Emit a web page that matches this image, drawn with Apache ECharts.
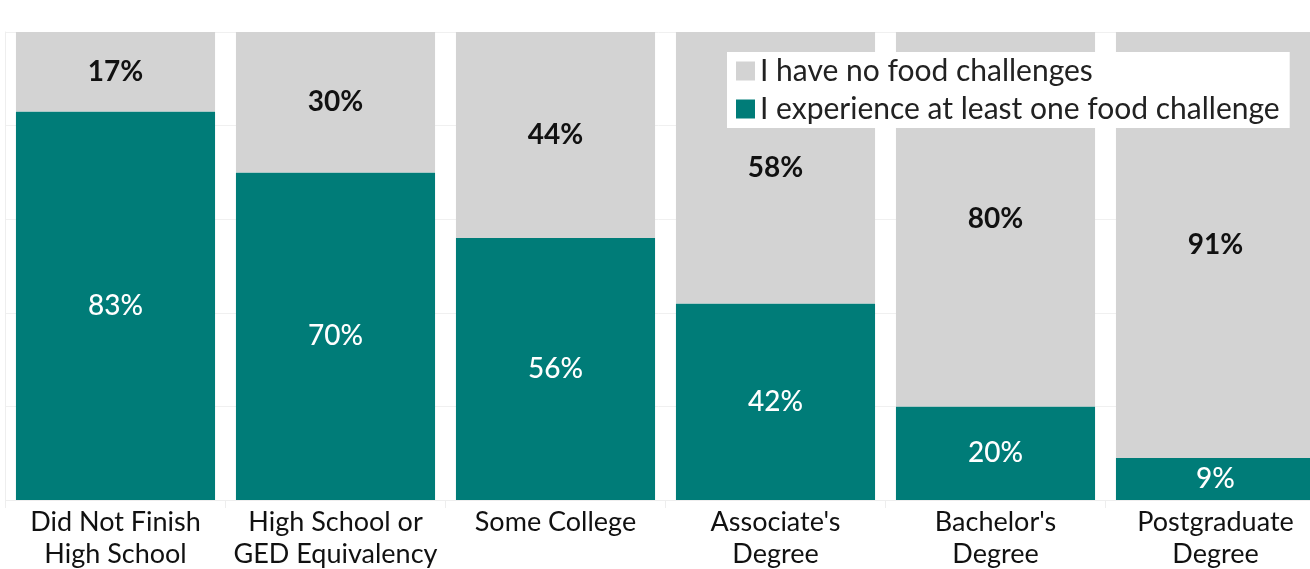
<!DOCTYPE html>
<html>
<head>
<meta charset="utf-8">
<script src="https://cdn.jsdelivr.net/npm/echarts@6/dist/echarts.min.js"></script>
<style>
  html, body { margin: 0; padding: 0; background: #fff; }
  #chart { width: 1310px; height: 569px; }
</style>
</head>
<body>
<div id="chart"></div>
<script>
// Education levels shown along the bottom
const categories = [
  'Did Not Finish\nHigh School',
  'High School or\nGED Equivalency',
  'Some College',
  "Associate's\nDegree",
  "Bachelor's\nDegree",
  'Postgraduate\nDegree'
];
// Share of respondents (%) in each group
const atLeastOneChallenge = [83, 70, 56, 42, 20, 9];
const noChallenges = [17, 30, 44, 58, 80, 91];

const seriesNames = ['I have no food challenges', 'I experience at least one food challenge'];
const TEAL = '#007C78';
const GRAY = '#D3D3D3';
const FONT = 'Lato';

const chart = echarts.init(document.getElementById('chart'), null, { renderer: 'canvas' });

chart.setOption({
  animation: false,
  textStyle: { fontFamily: FONT },
  // the plot runs a little past the right edge of the canvas
  grid: {
    left: 5.5, width: 1320, top: 32, height: 468,
    containLabel: false,
    outerBoundsMode: 'none'
  },
  legend: {
    data: [seriesNames[0], seriesNames[1]],
    orient: 'vertical',
    left: 727,
    top: 52,
    backgroundColor: '#fff',
    padding: [4, 10, 4, 9],
    itemGap: 8,
    itemWidth: 19,
    itemHeight: 19,
    itemTextGap: 18,
    icon: 'rect',
    textStyle: { fontFamily: FONT, fontSize: 30, lineHeight: 30, color: '#222' }
  },
  xAxis: {
    type: 'category',
    data: categories,
    axisLine: { show: true, lineStyle: { color: '#eeeeee' } },
    axisTick: { show: true, length: 8, lineStyle: { color: '#eeeeee' } },
    axisLabel: {
      color: '#111',
      fontFamily: FONT,
      fontSize: 27,
      lineHeight: 32,
      margin: 6,
      interval: 0
    }
  },
  yAxis: {
    type: 'value',
    min: 0,
    max: 100,
    interval: 20,
    axisLabel: { show: false },
    axisTick: { show: false },
    axisLine: { show: true, lineStyle: { color: '#eeeeee' } },
    splitLine: { show: true, lineStyle: { color: '#f0f0f0' } }
  },
  series: [
    {
      name: seriesNames[1],
      type: 'bar',
      stack: 'total',
      data: atLeastOneChallenge,
      barCategoryGap: '9.5%',
      itemStyle: { color: TEAL },
      label: {
        show: true,
        position: 'inside',
        formatter: '{c}%',
        color: '#fff',
        fontFamily: FONT,
        fontSize: 28,
        fontWeight: 500
      }
    },
    {
      name: seriesNames[0],
      type: 'bar',
      stack: 'total',
      data: noChallenges,
      barCategoryGap: '9.5%',
      itemStyle: { color: GRAY },
      label: {
        show: true,
        position: 'inside',
        formatter: '{c}%',
        color: '#111',
        fontFamily: FONT,
        fontSize: 28,
        fontWeight: 'bold'
      }
    }
  ]
});
</script>
</body>
</html>
